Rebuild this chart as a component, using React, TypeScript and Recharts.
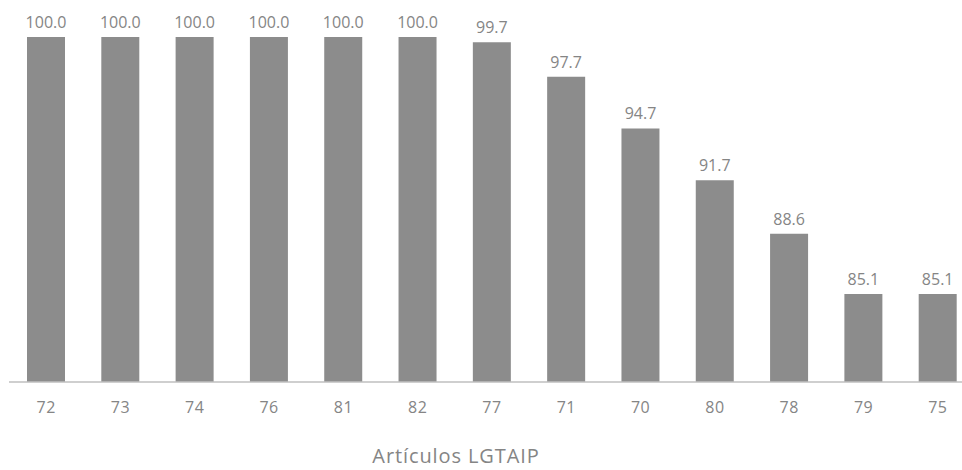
import { BarChart, Bar, XAxis, YAxis, LabelList, Label } from 'recharts';

const articulos = ['72', '73', '74', '76', '81', '82', '77', '71', '70', '80', '78', '79', '75'];
const cumplimiento = [100.0, 100.0, 100.0, 100.0, 100.0, 100.0, 99.7, 97.7, 94.7, 91.7, 88.6, 85.1, 85.1];

const data = articulos.map((a, i) => ({ articulo: a, valor: cumplimiento[i] }));

const FONT = '"Open Sans", sans-serif';
const TEXT = '#858585';

export default function App() {
  return (
    <div style={{ width: 962, height: 470, overflow: 'hidden', position: 'relative' }}>
      <style>{'body { margin: 0; }'}</style>
      <BarChart width={990} height={470} data={data} margin={{ top: 37, right: 15, bottom: 0, left: 9 }}>
        <XAxis
          dataKey="articulo"
          height={88}
          tickLine={false}
          tickMargin={14}
          stroke="#bfbfbf"
          strokeWidth={1.5}
          tick={{ fill: TEXT, fontSize: 16, fontFamily: FONT, letterSpacing: 0.5 }}
        >
          <Label value="Artículos LGTAIP" position="insideBottom" offset={7} dx={-36}
            style={{ fill: TEXT, fontSize: 20, fontFamily: FONT, letterSpacing: 0.9 }} />
        </XAxis>
        <YAxis hide domain={[80, 100]} />
        <Bar dataKey="valor" fill="#8c8c8c" barSize={38} isAnimationActive={false}>
          <LabelList dataKey="valor" position="top" offset={9}
            formatter={(v: any) => Number(v).toFixed(1)}
            style={{ fill: TEXT, fontSize: 16, fontFamily: FONT }} />
        </Bar>
      </BarChart>
    </div>
  );
}
